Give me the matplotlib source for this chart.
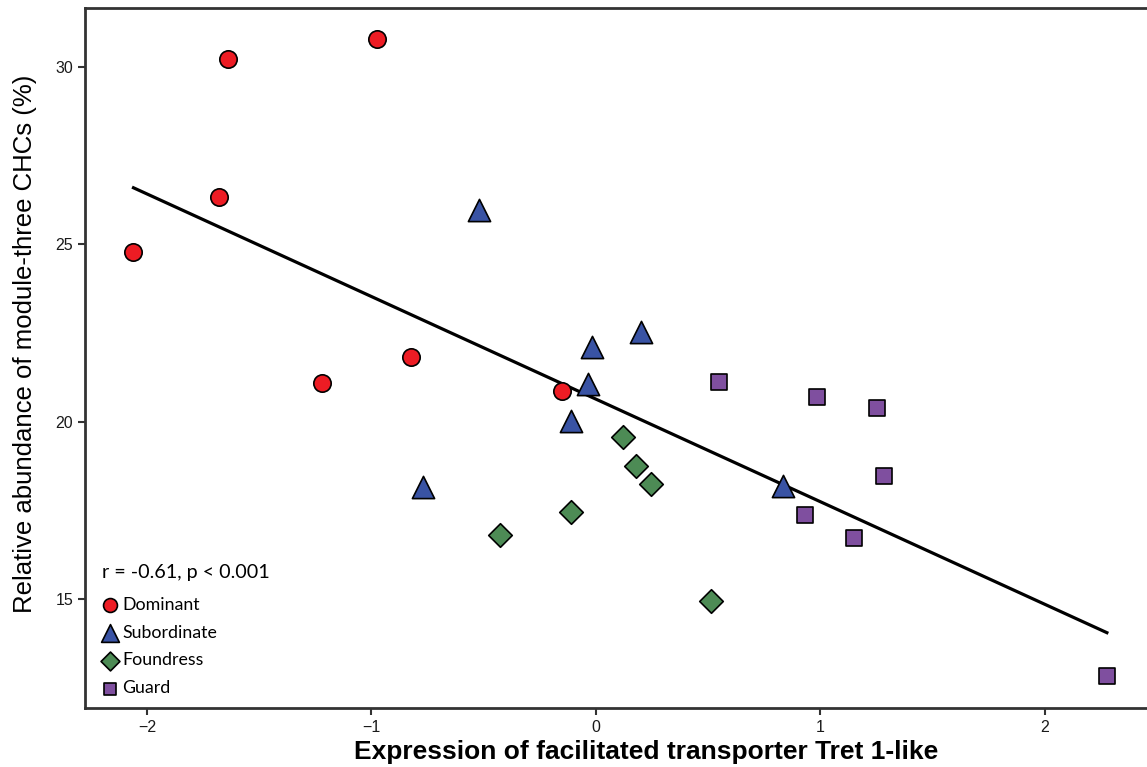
import numpy as np
import matplotlib.pyplot as plt

# data (expression vs relative abundance)
dom_x = [-2.06, -1.64, -0.975, -1.68, -1.22, -0.824, -0.151]
dom_y = [24.78, 30.23, 30.79, 26.33, 21.09, 21.82, 20.86]
sub_x = [-0.521, -0.018, 0.200, -0.036, -0.111, -0.771, 0.833]
sub_y = [25.97, 22.10, 22.53, 21.06, 20.02, 18.16, 18.19]
fou_x = [0.120, 0.178, 0.245, -0.111, -0.428, 0.512]
fou_y = [19.57, 18.75, 18.24, 17.45, 16.80, 14.94]
gua_x = [0.548, 0.984, 1.252, 1.283, 0.931, 1.149, 2.276]
gua_y = [21.12, 20.69, 20.38, 18.47, 17.37, 16.72, 12.83]

groups = ["Dominant", "Subordinate", "Foundress", "Guard"]
colors = ["#ED1C24", "#3953A4", "#4D8B55", "#7F4F9F"]
markers = ["o", "^", "D", "s"]
msizes = [12.5, 16, 12, 11.5]

fig = plt.figure(figsize=(11.47, 7.67), dpi=100)
# the panel runs past the right edge of the picture
ax = fig.add_axes([85 / 1147, 1 - 708 / 767, (1207 - 85) / 1147, 700 / 767])

all_x = np.array(dom_x + sub_x + fou_x + gua_x)
all_y = np.array(dom_y + sub_y + fou_y + gua_y)
slope, icpt = np.polyfit(all_x, all_y, 1)
lx = np.array([all_x.min(), all_x.max()])
ax.plot(lx, slope * lx + icpt, color="black", lw=2.3, zorder=2)

handles = []
for xs, ys, g, c, m, ms in zip([dom_x, sub_x, fou_x, gua_x], [dom_y, sub_y, fou_y, gua_y],
                               groups, colors, markers, msizes):
    h = ax.scatter(xs, ys, s=ms ** 2, marker=m, facecolor=c, edgecolor="black",
                   linewidth=1.2, label=g, zorder=3)
    handles.append(h)

ax.set_xlim(-2.276, 2.722)
ax.set_ylim(11.93, 31.66)
ax.set_xticks([-2, -1, 0, 1, 2])
ax.set_xticklabels(["\u22122", "\u22121", "0", "1", "2"])
ax.set_yticks([15, 20, 25, 30])

for s in ["left", "top", "bottom"]:
    ax.spines[s].set_color("#333333")
    ax.spines[s].set_linewidth(2)
ax.spines["right"].set_visible(False)
ax.tick_params(direction="out", length=5, width=1.5, color="#333333",
               labelsize=11.5, labelcolor="#1a1a1a", labelfontfamily="Liberation Sans")

ax.set_xlabel("Expression of facilitated transporter Tret 1-like", fontsize=19,
              fontweight="bold", family="Liberation Sans", labelpad=4)
ax.set_ylabel("Relative abundance of module-three CHCs (%)", fontsize=18.5,
              family="Liberation Sans")
ax.yaxis.set_label_coords(-48 / 1122, 0.52)

ax.text(0.0155, 0.193, "r = -0.61, p < 0.001", transform=ax.transAxes, fontsize=14.2,
        family="Lato", va="center")
leg = ax.legend(handles=handles, loc="lower left", bbox_to_anchor=(-0.008, -0.006),
                frameon=False, prop={"family": "Lato", "size": 12.8},
                handletextpad=-0.3, labelspacing=0.66, markerscale=0.8)

fig.savefig("out.png", dpi=100)
